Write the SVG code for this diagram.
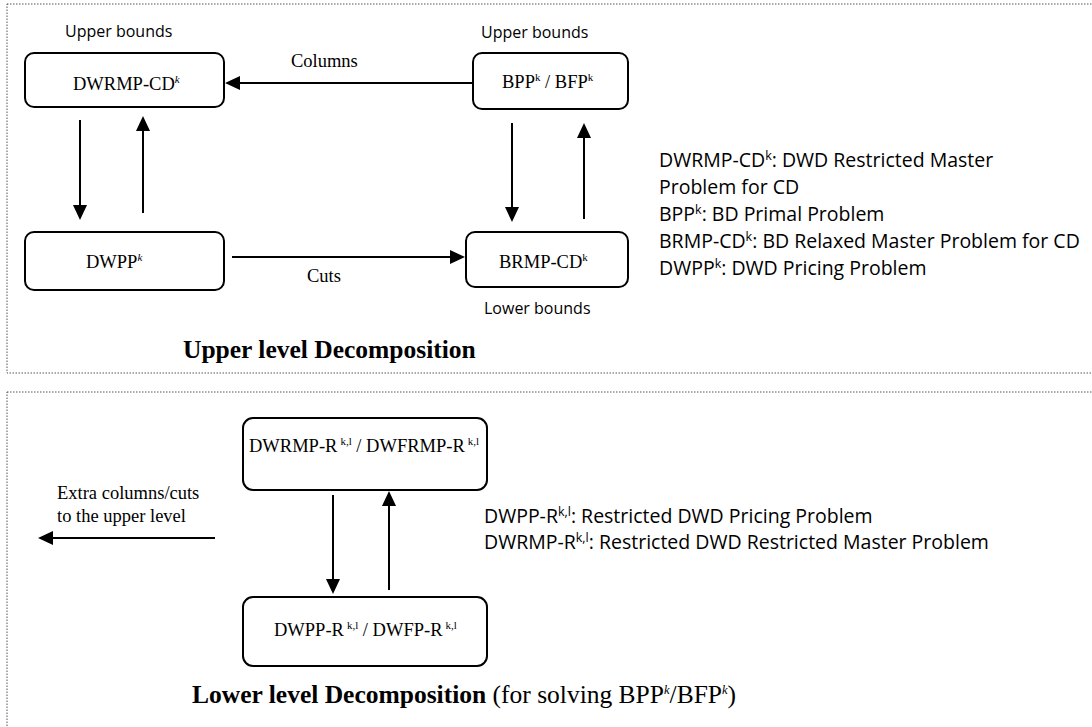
<svg xmlns="http://www.w3.org/2000/svg" width="1092" height="727" viewBox="0 0 1092 727">
  <defs>
    <marker id="arrow" viewBox="0 0 15 14" refX="5" refY="7" markerWidth="15" markerHeight="14" markerUnits="userSpaceOnUse" orient="auto">
      <path d="M0,0 L15,7 L0,14 Z" fill="#000"/>
    </marker>
  </defs>
  <style>
    .panel { fill: none; stroke: #555; stroke-width: 1; stroke-dasharray: 1.5 1.5; }
    .box { fill: #fff; stroke: #000; stroke-width: 2; }
    .edge { stroke: #000; stroke-width: 2; fill: none; marker-end: url(#arrow); }
    .serif { font-family: "Liberation Serif", "Times New Roman", serif; font-size: 18.5px; fill: #000; }
    .sans { font-family: "Open Sans", "Liberation Sans", sans-serif; fill: #000; }
    .lbl { font-size: 16px; }
    .legend { font-size: 19.5px; }
    .title { font-family: "Liberation Serif", "Times New Roman", serif; font-size: 25.5px; fill: #000; }
    .sup { font-size: 11px; }
    .supS { font-size: 12.5px; }
  </style>

  <!-- panel frames -->
  <rect class="panel" x="7" y="4" width="1100" height="369"/>
  <rect class="panel" x="7" y="392" width="1100" height="345"/>

  <!-- upper level -->
  <g id="node-dwrmp-cd">
    <rect class="box" x="25" y="53" width="199" height="54" rx="9"/>
    <text class="serif" x="73" y="90">DWRMP-CD<tspan class="sup" font-style="italic" dy="-7">k</tspan></text>
  </g>
  <g id="node-bpp-bfp">
    <rect class="box" x="473" y="53" width="155" height="56" rx="9"/>
    <text class="serif" x="502" y="88">BPP<tspan class="sup" dy="-7">k</tspan><tspan dy="7"> / BFP</tspan><tspan class="sup" dy="-7">k</tspan></text>
  </g>
  <g id="node-dwpp">
    <rect class="box" x="25" y="232" width="199" height="58" rx="9"/>
    <text class="serif" x="86" y="268">DWPP<tspan class="sup" font-style="italic" dy="-7">k</tspan></text>
  </g>
  <g id="node-brmp-cd">
    <rect class="box" x="466" y="232" width="162" height="55" rx="9"/>
    <text class="serif" x="499" y="268">BRMP-CD<tspan class="sup" dy="-7">k</tspan></text>
  </g>

  <!-- lower level -->
  <g id="node-dwrmp-r">
    <rect class="box" x="243" y="418" width="244" height="72" rx="10"/>
    <text class="serif" x="249" y="452">DWRMP-R<tspan class="sup" dx="3" dy="-7">k,l</tspan><tspan dy="7"> / DWFRMP-R</tspan><tspan class="sup" dx="3" dy="-7">k,l</tspan></text>
  </g>
  <g id="node-dwpp-r">
    <rect class="box" x="243" y="597" width="244" height="69" rx="10"/>
    <text class="serif" x="274" y="636">DWPP-R<tspan class="sup" dx="3" dy="-7">k,l</tspan><tspan dy="7"> / DWFP-R</tspan><tspan class="sup" dx="3" dy="-7">k,l</tspan></text>
  </g>

  <g id="connectors">
    <line class="edge" x1="473" y1="83" x2="235" y2="83"/>
    <line class="edge" x1="80" y1="120" x2="80" y2="210"/>
    <line class="edge" x1="143" y1="213" x2="143" y2="126"/>
    <line class="edge" x1="512" y1="123" x2="512" y2="212"/>
    <line class="edge" x1="584" y1="219" x2="584" y2="133"/>
    <line class="edge" x1="232" y1="257" x2="455" y2="257"/>
    <line class="edge" x1="333" y1="495" x2="333" y2="584"/>
    <line class="edge" x1="389" y1="590" x2="389" y2="501"/>
    <line class="edge" x1="215" y1="538" x2="48" y2="538"/>
  </g>

  <!-- labels -->
  <g id="labels">
    <text class="sans lbl" x="65" y="37">Upper bounds</text>
    <text class="sans lbl" x="481" y="38">Upper bounds</text>
    <text class="serif" x="291" y="67">Columns</text>
    <text class="serif" x="307" y="282">Cuts</text>
    <text class="sans lbl" x="484" y="314">Lower bounds</text>
    <text class="title" x="183" y="358" font-weight="bold">Upper level Decomposition</text>

    <text class="serif" x="57" y="499">Extra columns/cuts</text>
    <text class="serif" x="57" y="522">to the upper level</text>

    <text class="title" x="192" y="703"><tspan font-weight="bold">Lower level Decomposition</tspan> (for solving BPP<tspan class="supS" font-style="italic" dy="-9">k</tspan><tspan dy="9">/BFP</tspan><tspan class="supS" font-style="italic" dy="-9">k</tspan><tspan dy="9">)</tspan></text>
  </g>

  <!-- abbreviations -->
  <g id="legend-upper" class="sans legend">
    <text x="659" y="167">DWRMP-CD<tspan class="supS" dy="-7">k</tspan><tspan dy="7">: DWD Restricted Master</tspan></text>
    <text x="659" y="194">Problem for CD</text>
    <text x="659" y="221">BPP<tspan class="supS" dy="-7">k</tspan><tspan dy="7">: BD Primal Problem</tspan></text>
    <text x="659" y="248">BRMP-CD<tspan class="supS" dy="-7">k</tspan><tspan dy="7">: BD Relaxed Master Problem for CD</tspan></text>
    <text x="659" y="275">DWPP<tspan class="supS" dy="-7">k</tspan><tspan dy="7">: DWD Pricing Problem</tspan></text>
  </g>
  <g id="legend-lower" class="sans legend">
    <text x="484" y="523">DWPP-R<tspan class="supS" dy="-7">k,l</tspan><tspan dy="7">: Restricted DWD Pricing Problem</tspan></text>
    <text x="484" y="549">DWRMP-R<tspan class="supS" dy="-7">k,l</tspan><tspan dy="7">: Restricted DWD Restricted Master Problem</tspan></text>
  </g>
</svg>
